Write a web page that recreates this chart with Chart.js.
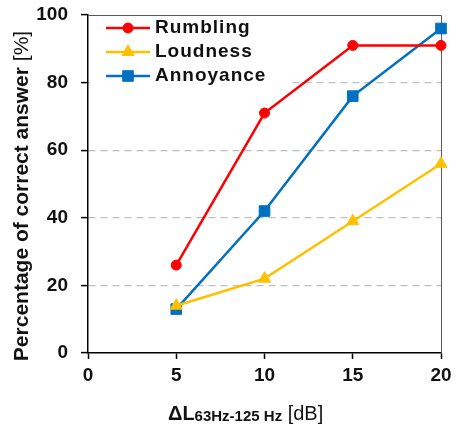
<!DOCTYPE html>
<html>
<head>
<meta charset="utf-8">
<script src="https://cdn.jsdelivr.net/npm/chart.js@4.4.1/dist/chart.umd.min.js"></script>
<style>
html, body { margin: 0; padding: 0; background: #fff; }
#wrap { width: 458px; height: 426px; position: relative; }
</style>
</head>
<body>
<div id="wrap"><canvas id="grafico"></canvas></div>
<script>
// dados
const niveis = [5, 10, 15, 20];
const rumbling = [26, 71, 91, 91];
const loudness = [14, 22, 39, 56];
const annoyance = [13, 42, 76, 96];
const nomes = ['Rumbling', 'Loudness', 'Annoyance'];
const ticksX = [0, 5, 10, 15, 20];
const ticksY = [0, 20, 40, 60, 80, 100];

const FONTE = '"Liberation Sans", Arial, sans-serif';
const TEXTO = '#111';

function pontos(valores) {
    return niveis.map((x, i) => ({ x: x, y: valores[i] }));
}

function serie(nome, valores, cor, estilo, raio) {
    return {
        label: nome,
        data: pontos(valores),
        borderColor: cor,
        backgroundColor: cor,
        pointBackgroundColor: cor,
        pointBorderColor: cor,
        borderWidth: 2.5,
        pointStyle: estilo,
        pointRadius: raio,
        pointHoverRadius: raio,
        pointBorderWidth: 1,
        tension: 0,
        clip: false
    };
}

// desenha um texto em partes (negrito / normal / subscrito) a partir de x
function textoEmPartes(ctx, partes, x, y) {
    partes.forEach(p => {
        ctx.font = p.f + FONTE;
        ctx.fillText(p.t, x, y + (p.dy || 0));
        x += ctx.measureText(p.t).width;
    });
}

function larguraPartes(ctx, partes) {
    return partes.reduce((soma, p) => {
        ctx.font = p.f + FONTE;
        return soma + ctx.measureText(p.t).width;
    }, 0);
}

// moldura de cima e da direita
const moldura = {
    id: 'moldura',
    beforeDatasetsDraw(chart) {
        const { ctx, chartArea: a } = chart;
        ctx.save();
        ctx.strokeStyle = '#595959';
        ctx.lineWidth = 1;
        ctx.beginPath();
        ctx.moveTo(a.left, a.top + 0.5);
        ctx.lineTo(a.right + 0.5, a.top + 0.5);
        ctx.lineTo(a.right + 0.5, a.bottom);
        ctx.stroke();
        ctx.restore();
    }
};

// legenda dentro da área do gráfico, com linha + marcador
const legendaInterna = {
    id: 'legendaInterna',
    beforeDatasetsDraw(chart) {
        const { ctx, chartArea: a } = chart;
        ctx.save();
        ctx.fillStyle = '#fff';
        ctx.fillRect(a.left + 2, a.top + 2, 200, 76);
        ctx.font = 'bold 19px ' + FONTE;
        ctx.letterSpacing = '1px';
        ctx.textBaseline = 'middle';
        ctx.textAlign = 'left';
        chart.data.datasets.forEach((ds, i) => {
            const y = a.top + 13 + i * 24;
            const x0 = a.left + 18, x1 = a.left + 62;
            ctx.strokeStyle = ds.borderColor;
            ctx.lineWidth = ds.borderWidth;
            ctx.beginPath();
            ctx.moveTo(x0, y);
            ctx.lineTo(x1, y);
            ctx.stroke();
            ctx.fillStyle = ds.pointBackgroundColor;
            ctx.strokeStyle = ds.pointBorderColor;
            ctx.lineWidth = 1;
            Chart.helpers.drawPoint(ctx, { pointStyle: ds.pointStyle, radius: ds.pointRadius, borderWidth: 1, rotation: 0 }, (x0 + x1) / 2, y);
            ctx.fillStyle = TEXTO;
            ctx.fillText(ds.label, a.left + 67, y);
        });
        ctx.restore();
    }
};

// títulos dos eixos (o do eixo x tem subscrito)
const titulos = {
    id: 'titulos',
    afterDraw(chart) {
        const { ctx, chartArea: a } = chart;
        ctx.save();
        ctx.fillStyle = TEXTO;
        ctx.textAlign = 'left';

        // eixo y
        const tituloY = [
            { t: 'Percentage of correct answer ', f: 'bold 21px ' },
            { t: '[%]', f: '21px ' }
        ];
        ctx.textBaseline = 'middle';
        ctx.translate(22, (a.top + a.bottom) / 2 + 12);
        ctx.rotate(-Math.PI / 2);
        textoEmPartes(ctx, tituloY, -larguraPartes(ctx, tituloY) / 2, 0);
        ctx.setTransform(1, 0, 0, 1, 0, 0);

        // eixo x
        ctx.textBaseline = 'alphabetic';
        const tituloX = [
            { t: 'ΔL', f: 'bold 20px ' },
            { t: '63Hz-125 Hz', f: 'bold 15px ', dy: 1 },
            { t: ' [dB]', f: '20px ' }
        ];
        textoEmPartes(ctx, tituloX, a.left + 80, a.bottom + 67);
        ctx.restore();
    }
};

const ctx = document.getElementById('grafico');

new Chart(ctx, {
    type: 'line',
    data: {
        datasets: [
            serie(nomes[0], rumbling, '#FF0000', 'circle', 5),
            serie(nomes[1], loudness, '#FFC000', 'triangle', 7),
            serie(nomes[2], annoyance, '#0070C0', 'rect', 7.5)
        ]
    },
    options: {
        responsive: true,
        maintainAspectRatio: false,
        animation: false,
        devicePixelRatio: 1,
        layout: { padding: { left: 0, top: 15, right: 17, bottom: 0 } },
        plugins: {
            legend: { display: false },
            tooltip: { enabled: false }
        },
        scales: {
            x: {
                type: 'linear',
                min: 0,
                max: 20,
                afterBuildTicks: s => { s.ticks = ticksX.map(v => ({ value: v })); },
                afterFit: s => { s.height = 73; s.paddingLeft = 0; s.paddingRight = 0; },
                grid: {
                    drawOnChartArea: false,
                    drawTicks: true,
                    tickLength: 6,
                    tickColor: '#000',
                    tickWidth: 1.5
                },
                border: { display: true, color: '#000', width: 1.5 },
                ticks: {
                    padding: 5,
                    color: TEXTO,
                    font: { family: FONTE, size: 19, weight: 'bold' },
                    maxRotation: 0
                }
            },
            y: {
                min: 0,
                max: 100,
                afterBuildTicks: s => { s.ticks = ticksY.map(v => ({ value: v })); },
                afterFit: s => { s.width = 88; s.paddingTop = 0; s.paddingBottom = 0; },
                grid: {
                    color: c => (c.tick && c.tick.value > 0 && c.tick.value < 100) ? '#BFBFBF' : 'rgba(0,0,0,0)',
                    lineWidth: 1.2,
                    drawTicks: true,
                    tickLength: 7,
                    tickColor: '#000',
                    tickWidth: 1.5,
                    tickBorderDash: []
                },
                border: { display: true, color: '#000', width: 1.5, dash: [7, 5] },
                ticks: {
                    padding: 13,
                    color: TEXTO,
                    font: { family: FONTE, size: 19, weight: 'bold' }
                }
            }
        }
    },
    plugins: [moldura, legendaInterna, titulos]
});
</script>
</body>
</html>
